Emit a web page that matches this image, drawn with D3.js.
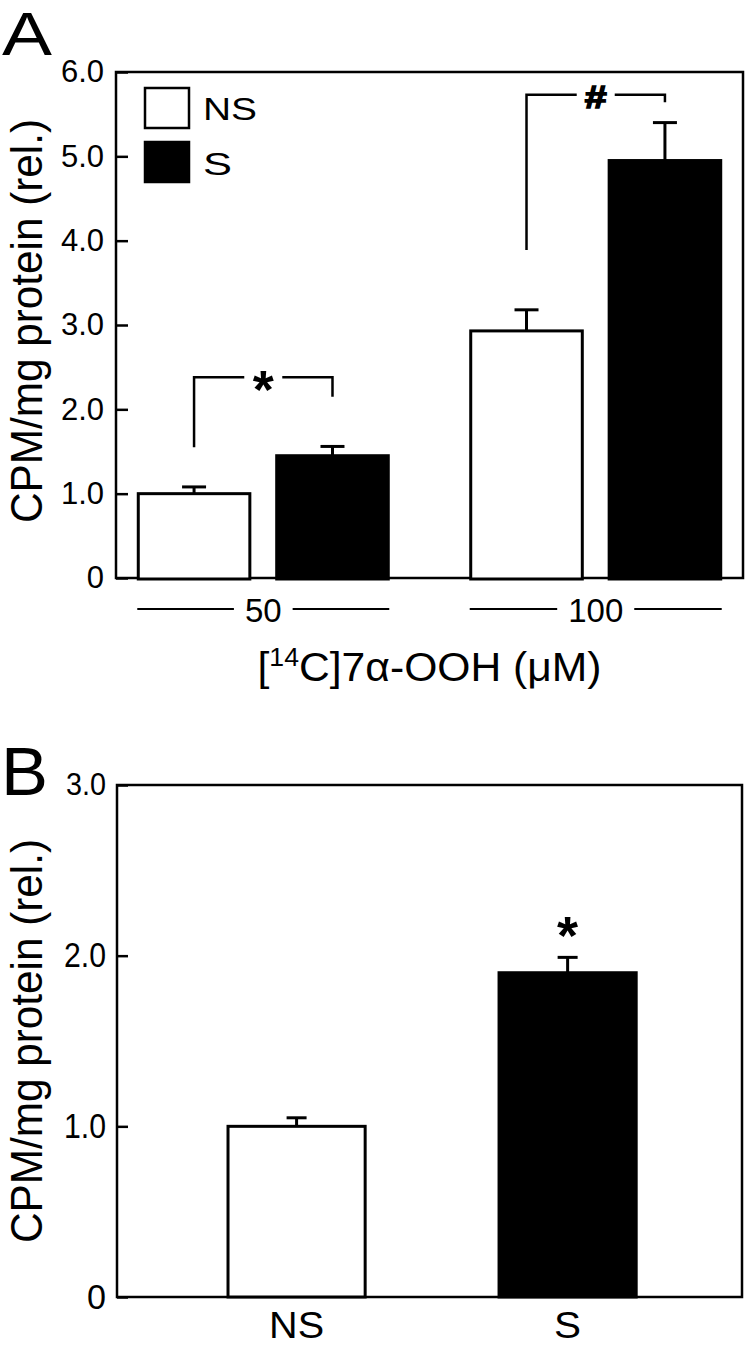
<!DOCTYPE html>
<html>
<head>
<meta charset="utf-8">
<script src="https://cdn.jsdelivr.net/npm/d3@7/dist/d3.min.js"></script>
<style>
  html, body { margin: 0; padding: 0; background: #fff; }
  svg { display: block; }
  text { font-family: "Liberation Sans", Arial, sans-serif; fill: #000; }
</style>
</head>
<body>
<svg id="chart" width="750" height="1347"></svg>
<script>
// ---------------- DATA ----------------
// Panel A
const groupsA = ["50", "100"];
const seriesA = ["NS", "S"];
const nsValuesA = [1.00, 2.93];
const sValuesA = [1.45, 4.95];
const nsErrA = [0.08, 0.25];
const sErrA = [0.11, 0.45];
const yTickValuesA = [0, 1, 2, 3, 4, 5, 6];
const yTickLabelsA = ["0", "1.0", "2.0", "3.0", "4.0", "5.0", "6.0"];
// significance brackets (value units): bracket top, left leg end, right leg end
const sigSymbolsA = ["*", "#"];
const sigTopA = [2.38, 5.73];
const sigLeftEndA = [1.55, 3.89];
const sigRightEndA = [2.15, 5.64];

// Panel B
const categoriesB = ["NS", "S"];
const valuesB = [1.00, 1.90];
const errB = [0.05, 0.09];
const yTickValuesB = [0, 1, 2, 3];
const yTickLabelsB = ["0", "1.0", "2.0", "3.0"];
const sigB = ["", "*"];

const yTitle = "CPM/mg protein (rel.)";

// ---------------- LAYOUT ----------------
const svg = d3.select("#chart");
svg.append("rect").attr("width", 750).attr("height", 1347).attr("fill", "#fff");

const A = { left: 116, right: 743, top: 72, bottom: 578 };
const B = { left: 117, right: 742, top: 785, bottom: 1297 };

const fillFor = { NS: "#fff", S: "#000" };

function yTitleText(cx, cy) {
  svg.append("text")
    .attr("transform", `translate(${cx},${cy}) scale(1.1,1) rotate(-90)`)
    .attr("text-anchor", "middle")
    .attr("font-size", 41)
    .attr("textLength", 404)
    .attr("lengthAdjust", "spacingAndGlyphs")
    .text(yTitle);
}

// ---------------- PANEL A ----------------
const yA = d3.scaleLinear().domain([0, 6]).range([A.bottom, A.top]);
const xA = d3.scaleBand().domain(groupsA).range([A.left, A.right])
  .paddingInner(0.248).paddingOuter(0.067);
const xAin = d3.scaleBand().domain(seriesA).range([0, xA.bandwidth()])
  .paddingInner(0.194).paddingOuter(0);

const gA = svg.append("g");

// frame
gA.append("rect").attr("x", A.left).attr("y", A.top)
  .attr("width", A.right - A.left).attr("height", A.bottom - A.top)
  .attr("fill", "none").attr("stroke", "#000").attr("stroke-width", 2.5);

// y axis
const axA = gA.append("g").attr("transform", `translate(${A.left},0)`)
  .call(d3.axisLeft(yA).tickValues(yTickValuesA)
    .tickFormat((d, i) => yTickLabelsA[i])
    .tickSizeInner(-12).tickSizeOuter(0).tickPadding(12));
axA.select(".domain").remove();
axA.selectAll(".tick line").attr("stroke", "#000").attr("stroke-width", 2.5);
axA.selectAll(".tick text").attr("font-size", 31)
  .attr("font-family", "Liberation Sans, Arial, sans-serif").attr("fill", "#000");

// bars
const barsA = [];
groupsA.forEach((g, gi) => {
  barsA.push({ group: g, series: "NS", v: nsValuesA[gi], e: nsErrA[gi] });
  barsA.push({ group: g, series: "S", v: sValuesA[gi], e: sErrA[gi] });
});
const cxA = d => xA(d.group) + xAin(d.series) + xAin.bandwidth() / 2;

gA.selectAll(".err").data(barsA).join("g").each(function (d) {
  const g = d3.select(this);
  const cx = cxA(d);
  g.append("line").attr("x1", cx).attr("x2", cx)
    .attr("y1", yA(d.v)).attr("y2", yA(d.v + d.e))
    .attr("stroke", "#000").attr("stroke-width", 3);
  g.append("line").attr("x1", cx - 12).attr("x2", cx + 12)
    .attr("y1", yA(d.v + d.e)).attr("y2", yA(d.v + d.e))
    .attr("stroke", "#000").attr("stroke-width", 3);
});

gA.selectAll(".bar").data(barsA).join("rect")
  .attr("x", d => xA(d.group) + xAin(d.series))
  .attr("y", d => yA(d.v))
  .attr("width", xAin.bandwidth())
  .attr("height", d => yA(0) - yA(d.v) + 1)
  .attr("fill", d => fillFor[d.series])
  .attr("stroke", "#000").attr("stroke-width", 3);

// significance brackets
groupsA.forEach((g, gi) => {
  const xl = xA(g) + xAin("NS") + xAin.bandwidth() / 2;
  const xr = xA(g) + xAin("S") + xAin.bandwidth() / 2;
  const xm = (xl + xr) / 2;
  const yt = yA(sigTopA[gi]);
  const gap = 19;
  gA.append("path")
    .attr("d", `M${xl},${yA(sigLeftEndA[gi])}V${yt}H${xm - gap}`)
    .attr("fill", "none").attr("stroke", "#000").attr("stroke-width", 2.5);
  gA.append("path")
    .attr("d", `M${xm + gap},${yt}H${xr}V${yA(sigRightEndA[gi])}`)
    .attr("fill", "none").attr("stroke", "#000").attr("stroke-width", 2.5);
  const sym = sigSymbolsA[gi];
  if (sym === "*") {
    gA.append("text").attr("x", xm).attr("y", yt + 0.56 * 54)
      .attr("text-anchor", "middle").attr("font-size", 54).attr("font-weight", "bold")
      .text(sym);
  } else {
    gA.append("text").attr("x", xm).attr("y", yt + 13)
      .attr("text-anchor", "middle").attr("font-size", 31).attr("font-weight", "bold")
      .attr("stroke", "#000").attr("stroke-width", 1.4)
      .attr("textLength", 22).attr("lengthAdjust", "spacingAndGlyphs")
      .text(sym);
  }
});

// group labels with lines
groupsA.forEach(g => {
  const x0 = xA(g) - 1, x1 = xA(g) + xA.bandwidth() + 1;
  const xm = xA(g) + xA.bandwidth() / 2;
  const t = gA.append("text").attr("x", xm).attr("y", 622)
    .attr("text-anchor", "middle").attr("font-size", 33).text(g);
  const half = t.node().getComputedTextLength() / 2 + 11;
  gA.append("line").attr("x1", x0).attr("x2", xm - half).attr("y1", 609).attr("y2", 609)
    .attr("stroke", "#000").attr("stroke-width", 2);
  gA.append("line").attr("x1", xm + half).attr("x2", x1).attr("y1", 609).attr("y2", 609)
    .attr("stroke", "#000").attr("stroke-width", 2);
});

// x title
const xt = gA.append("text").attr("x", (A.left + A.right) / 2).attr("y", 681)
  .attr("text-anchor", "middle").attr("font-size", 40)
  .attr("textLength", 344).attr("lengthAdjust", "spacingAndGlyphs");
xt.append("tspan").text("[");
xt.append("tspan").attr("font-size", 25).attr("dy", -15).text("14");
xt.append("tspan").attr("dy", 15).text("C]7α-OOH (μM)");

// legend
seriesA.forEach((s, i) => {
  gA.append("rect").attr("x", 145).attr("y", 88 + i * 54).attr("width", 44).attr("height", 40)
    .attr("fill", fillFor[s]).attr("stroke", "#000").attr("stroke-width", 2.5);
  gA.append("text").attr("x", 203).attr("y", 120 + i * 55)
    .attr("font-size", 31)
    .attr("textLength", s === "NS" ? 54 : 29).attr("lengthAdjust", "spacingAndGlyphs")
    .text(s);
});

// panel letter and y title
svg.append("text").attr("x", 2).attr("y", 55).attr("font-size", 61)
  .attr("textLength", 50).attr("lengthAdjust", "spacingAndGlyphs").text("A");
yTitleText(42, (A.top + A.bottom) / 2 - 4);

// ---------------- PANEL B ----------------
const yB = d3.scaleLinear().domain([0, 3]).range([B.bottom, B.top]);
const xB = d3.scaleBand().domain(categoriesB).range([B.left, B.right])
  .paddingInner(0.494).paddingOuter(0.40).align(0.512);

const gB = svg.append("g");
gB.append("rect").attr("x", B.left).attr("y", B.top)
  .attr("width", B.right - B.left).attr("height", B.bottom - B.top)
  .attr("fill", "none").attr("stroke", "#000").attr("stroke-width", 2.5);

const axB = gB.append("g").attr("transform", `translate(${B.left},0)`)
  .call(d3.axisLeft(yB).tickValues(yTickValuesB)
    .tickFormat((d, i) => yTickLabelsB[i])
    .tickSizeInner(-11).tickSizeOuter(0).tickPadding(11));
axB.select(".domain").remove();
axB.selectAll(".tick line").attr("stroke", "#000").attr("stroke-width", 2.5);
axB.selectAll(".tick text")
  .attr("font-size", d => d === 3 ? 31 : 35)
  .attr("textLength", d => d === 0 ? 19 : (d === 3 ? 40 : 42))
  .attr("lengthAdjust", "spacingAndGlyphs")
  .attr("font-family", "Liberation Sans, Arial, sans-serif").attr("fill", "#000");

const barsB = categoriesB.map((c, i) => ({ cat: c, v: valuesB[i], e: errB[i], sig: sigB[i] }));
const cxB = d => xB(d.cat) + xB.bandwidth() / 2;

gB.selectAll(".err").data(barsB).join("g").each(function (d) {
  const g = d3.select(this);
  const cx = cxB(d);
  g.append("line").attr("x1", cx).attr("x2", cx)
    .attr("y1", yB(d.v)).attr("y2", yB(d.v + d.e))
    .attr("stroke", "#000").attr("stroke-width", 3);
  g.append("line").attr("x1", cx - 10).attr("x2", cx + 10)
    .attr("y1", yB(d.v + d.e)).attr("y2", yB(d.v + d.e))
    .attr("stroke", "#000").attr("stroke-width", 3);
});

gB.selectAll(".bar").data(barsB).join("rect")
  .attr("x", d => xB(d.cat))
  .attr("y", d => yB(d.v))
  .attr("width", xB.bandwidth())
  .attr("height", d => yB(0) - yB(d.v))
  .attr("fill", d => fillFor[d.cat])
  .attr("stroke", "#000").attr("stroke-width", 3);

gB.selectAll(".sig").data(barsB.filter(d => d.sig)).join("text")
  .attr("x", cxB).attr("y", d => yB(d.v + d.e) - 34 + 0.56 * 54)
  .attr("text-anchor", "middle").attr("font-size", 54).attr("font-weight", "bold")
  .text(d => d.sig);

gB.selectAll(".xl").data(barsB).join("text")
  .attr("x", cxB).attr("y", 1338)
  .attr("text-anchor", "middle").attr("font-size", 36)
  .attr("textLength", d => d.cat === "NS" ? 55 : 27).attr("lengthAdjust", "spacingAndGlyphs")
  .text(d => d.cat);

svg.append("text").attr("x", 1).attr("y", 795).attr("font-size", 68)
  .attr("textLength", 47).attr("lengthAdjust", "spacingAndGlyphs").text("B");
yTitleText(42, (B.top + B.bottom) / 2);
</script>
</body>
</html>
